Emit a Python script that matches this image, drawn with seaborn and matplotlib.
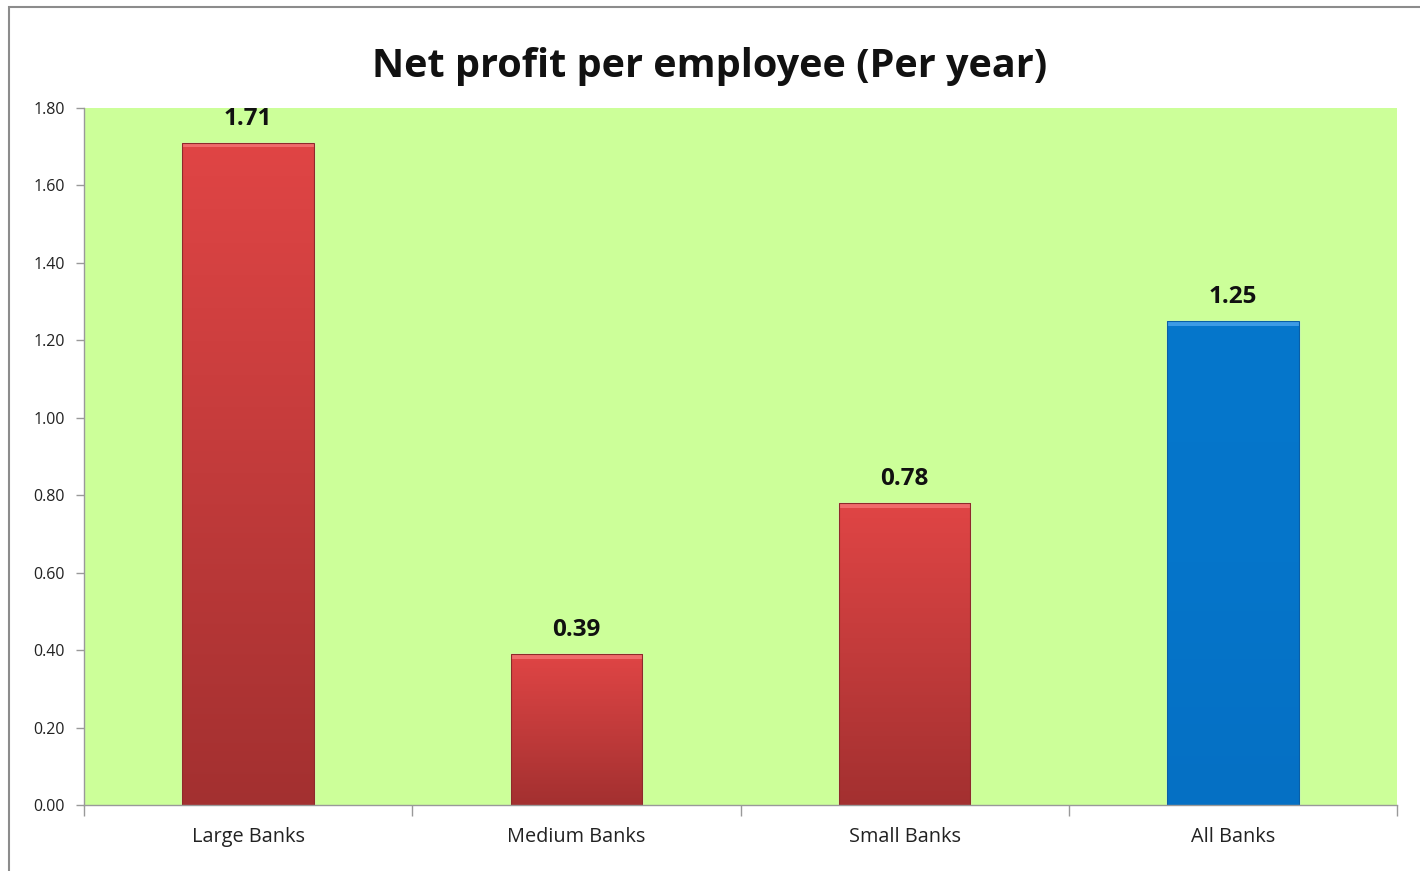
import numpy as np
import pandas as pd
import matplotlib
matplotlib.use("Agg")
import matplotlib.pyplot as plt
import seaborn as sns
from matplotlib.colors import LinearSegmentedColormap
from matplotlib.patches import Rectangle
from matplotlib.ticker import FixedLocator

categories = ["Large Banks", "Medium Banks", "Small Banks", "All Banks"]
values = [1.71, 0.39, 0.78, 1.25]
yticks = [0.0, 0.2, 0.4, 0.6, 0.8, 1.0, 1.2, 1.4, 1.6, 1.8]
title = "Net profit per employee (Per year)"

sns.set_theme(style="white")
plt.rcParams["font.family"] = ["Open Sans", "DejaVu Sans"]

df = pd.DataFrame({"category": categories, "value": values})
palette = {"Large Banks": "#D84040", "Medium Banks": "#D84040",
           "Small Banks": "#D84040", "All Banks": "#0575CA"}

fig = plt.figure(figsize=(14.2, 8.71), dpi=100)
ax = fig.add_axes([84 / 1420, 1 - 805 / 871, 1313 / 1420, 697 / 871])
ax.set_facecolor("#CCFF99")

sns.barplot(data=df, x="category", y="value", hue="category", palette=palette,
            width=0.4, legend=False, ax=ax, saturation=1)

red_grad = LinearSegmentedColormap.from_list("redgrad", ["#A33030", "#C23B3B", "#E04545"])
blue_grad = LinearSegmentedColormap.from_list("bluegrad", ["#0670C4", "#0575CA", "#0677CC"])

for patch, cat in zip(ax.patches, categories):
    x0, y0 = patch.get_x(), patch.get_y()
    w, h = patch.get_width(), patch.get_height()
    cmap = blue_grad if cat == "All Banks" else red_grad
    grad = np.linspace(0, 1, 256).reshape(-1, 1)
    im = ax.imshow(grad, cmap=cmap, origin="lower", aspect="auto",
                   extent=[x0, x0 + w, y0, y0 + h], zorder=patch.get_zorder() + 0.1)
    im.set_clip_path(patch)
    # bevelled top edge
    top_col = "#3C9BE6" if cat == "All Banks" else "#F06B6B"
    ax.add_patch(Rectangle((x0, y0 + h - 0.012), w, 0.012, facecolor=top_col,
                           edgecolor="none", zorder=patch.get_zorder() + 0.2))
    edge_col = "#0A5FA5" if cat == "All Banks" else "#8E2A2A"
    ax.add_patch(Rectangle((x0, y0), w, h, facecolor="none", edgecolor=edge_col,
                           linewidth=0.8, zorder=patch.get_zorder() + 0.3))
    ax.text(x0 + w / 2, h + 0.03, f"{h:.2f}", ha="center", va="bottom",
            fontsize=17.5, fontweight="bold", color="#111111", zorder=5)

ax.set_xlim(-0.5, len(categories) - 0.5)
ax.set_ylim(0, 1.8)
ax.set_yticks(yticks)
ax.set_yticklabels([f"{t:.2f}" for t in yticks], fontsize=11.5, color="#222222")
ax.tick_params(axis="y", which="major", left=True, length=6, width=1,
               color="#999999", pad=8)
ax.set_xticks(range(len(categories)))
ax.set_xticklabels(categories, fontsize=14.3, color="#222222")
ax.tick_params(axis="x", which="major", length=0, pad=16)
ax.xaxis.set_minor_locator(FixedLocator([-0.5, 0.5, 1.5, 2.5, 3.5]))
ax.tick_params(axis="x", which="minor", bottom=True, length=8, width=1, color="#999999")
ax.set_xlabel("")
ax.set_ylabel("")

for side in ["top", "right"]:
    ax.spines[side].set_visible(False)
for side in ["left", "bottom"]:
    ax.spines[side].set_color("#999999")
    ax.spines[side].set_linewidth(1)

fig.text(0.5, 1 - 66 / 871, title, ha="center", va="center",
         fontsize=28.5, fontweight="bold", color="#111111")

fig.patches.append(Rectangle((9 / 1420, -0.1), 1.2, 1 - 7 / 871 + 0.1,
                             transform=fig.transFigure, facecolor="none",
                             edgecolor="#8C8C8C", linewidth=1.5, zorder=0))

fig.savefig("out.png", dpi=100)
